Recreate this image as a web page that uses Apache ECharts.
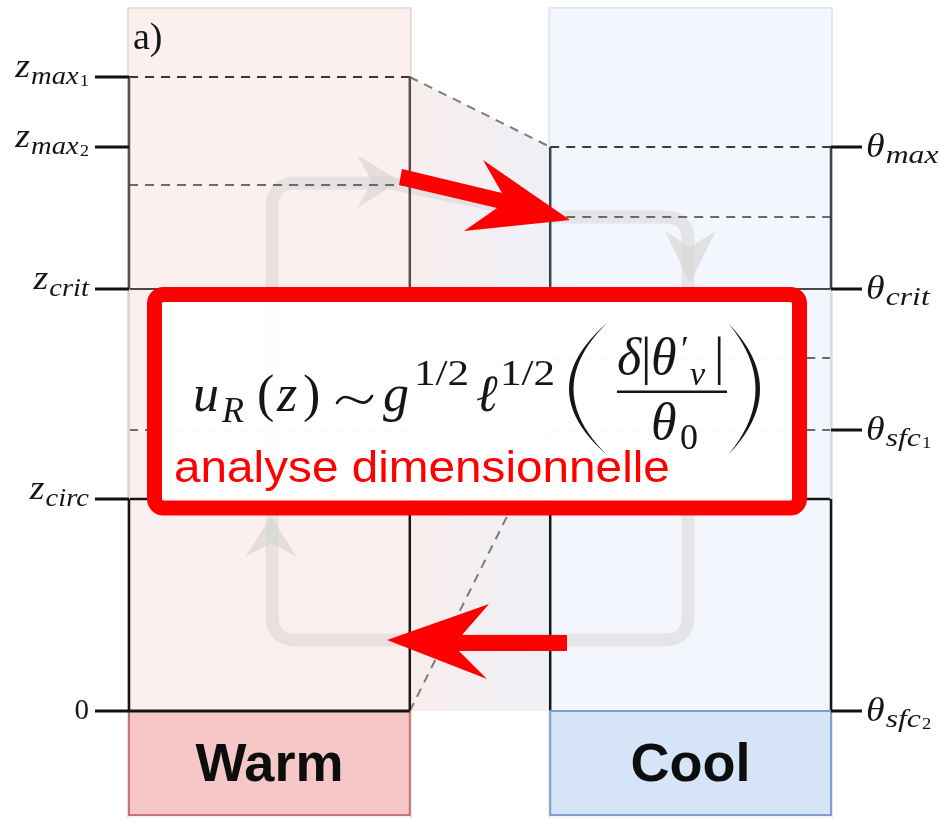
<!DOCTYPE html>
<html>
<head>
<meta charset="utf-8">
<script src="https://cdn.jsdelivr.net/npm/echarts@6/dist/echarts.min.js"></script>
<style>
  html, body { margin: 0; padding: 0; background: #ffffff; }
  #chart { width: 941px; height: 818px; }
</style>
</head>
<body>
<div id="chart"></div>
<script>
// ---- Schematic values (vertical unit: height above the surface) ----
const columnNames = ['Warm', 'Cool'];
// left axis: heights of the warm column, label written as base|sub|subsub
const zLevelLabels = ['0', 'z|circ', 'z|crit', 'z|max|2', 'z|max|1'];
const zLevelHeights = [0, 212, 422, 564, 634];
// right axis: potential-temperature levels of the cool column
const thetaLevelLabels = ['θ|sfc|2', 'θ|sfc|1', 'θ|crit', 'θ|max'];
const thetaLevelHeights = [0, 281, 422, 564];
// dashed isentropes inside each column
const warmIsentropes = [634, 526, 281];
const coolIsentropes = [564, 494, 353, 281];
// isentropes that run from the warm column into the cool one [warm, cool]
const isentropeLinks = [[634, 564], [0, 281]];

// ---- Layout ----
const COLUMN_X = [[0, 1], [1.5, 2.5]];
const COLUMN_TOP = [zLevelHeights[4], thetaLevelHeights[3]];
const PANEL_TOP = 703, PANEL_BOTTOM = -110, LABEL_BOX_BOTTOM = -104;
const PANEL_FILL = ['#fcefef', '#f3f6fd'];
const PANEL_EDGE = ['#ecd2d2', '#d9e2f0'];
const LABEL_FILL = ['#f5c8c7', '#d6e4f7'];
const LABEL_EDGE = ['#c47474', '#7f9dd2'];
const WALL_DARK = ['#5d4b4d', '#3b4550'];
const WALL_FAINT = ['#e2d2d2', '#d6dde8'];
const SERIF = '"Liberation Serif", "DejaVu Serif", serif';
const SANS = '"Liberation Sans", Arial, sans-serif';

// circulation loop (data units), drawn faintly behind the annotations
const LOOP = { left: 0.51, right: 1.991, topWarm: 528, topCool: 494, bottom: 71, startWarm: 170, gapStart: 0.93, gapEnd: 1.503, radius: 24 };
const LOOP_HEADS = [
  [[0.965, 530], [0.812, 556], [0.865, 529], [0.812, 503]],
  [[1.998, 428], [2.090, 480], [1.998, 464], [1.909, 480]],
  [[0.506, 194], [0.598, 154], [0.506, 168], [0.413, 154]]
];

const measureCtx = document.createElement('canvas').getContext('2d');
function textWidth(t, size, italic) {
  measureCtx.font = (italic ? 'italic ' : '') + size + 'px ' + SERIF;
  return measureCtx.measureText(t).width;
}
// text helper positioned by its alphabetic baseline
function txt(text, x, baseline, size, opts) {
  opts = opts || {};
  const el = {
    type: 'text', x: x, y: baseline - 0.3 * size,
    scaleX: opts.scaleX || 1,
    style: {
      text: text, fontSize: size, fontFamily: opts.family || SERIF,
      fontStyle: opts.italic ? 'italic' : 'normal', fontWeight: opts.weight || 'normal',
      fill: opts.fill || '#161616',
      align: opts.align || 'left', verticalAlign: 'middle'
    }
  };
  if (opts.z != null) el.z = opts.z;
  return el;
}
// math label such as z_{max_1}
function mathLabel(label, x, tickY, side) {
  const bits = label.split('|');
  const isDigit = /^[0-9]$/.test(bits[0]);
  const parts = [];
  if (isDigit) {
    parts.push({ t: bits[0], size: 29, dy: 9, italic: false, sx: 1 });
  } else {
    const d = side === 'left' ? [1, 8, 10] : [11, 17, 19];
    parts.push({ t: bits[0], size: 33, dy: d[0], italic: true, sx: 1.15 });
    if (bits[1]) parts.push({ t: bits[1], size: 26, dy: d[1], italic: true, pre: 1, sx: side === 'left' ? 1.1 : 1.22 });
    if (bits[2]) parts.push({ t: bits[2], size: 17, dy: d[2], italic: false, pre: 1, sx: 1.1 });
  }
  const widths = parts.map(p => textWidth(p.t, p.size, p.italic) * p.sx + (p.pre || 0));
  const total = widths.reduce((a, b) => a + b, 0);
  let cx = side === 'left' ? x - total : x;
  return parts.map((p, i) => {
    const el = txt(p.t, cx + (p.pre || 0), tickY + p.dy, p.size, { italic: p.italic, scaleX: p.sx });
    cx += widths[i];
    return el;
  });
}
function line(api, a, b, style) {
  const p = api.coord(a), q = api.coord(b);
  return { type: 'line', shape: { x1: p[0], y1: p[1], x2: q[0], y2: q[1] }, style: style };
}
// tall bracket: crescent between two quadratic curves sharing end points
function bracket(x, top, bottom, outer, inner) {
  const pts = [];
  const n = 24;
  const q = (c, t) => [(1 - t) * (1 - t) * x + 2 * (1 - t) * t * c + t * t * x,
                       (1 - t) * (1 - t) * top + 2 * (1 - t) * t * ((top + bottom) / 2) + t * t * bottom];
  for (let k = 0; k <= n; k++) pts.push(q(outer, k / n));
  for (let k = n; k >= 0; k--) pts.push(q(inner, k / n));
  return { type: 'polygon', z: 61, shape: { points: pts }, style: { fill: '#161616' } };
}

const series = [
  // column panels
  {
    type: 'custom', z: 1, silent: true, clip: false,
    data: columnNames.map((n, i) => [i]),
    renderItem(params, api) {
      const i = params.dataIndex, xs = COLUMN_X[i];
      const a = api.coord([xs[0], PANEL_TOP]), b = api.coord([xs[1], PANEL_BOTTOM]);
      return { type: 'rect', shape: { x: a[0] - 1, y: a[1], width: b[0] - a[0] + 2, height: b[1] - a[1] },
        style: { fill: PANEL_FILL[i], stroke: PANEL_EDGE[i], lineWidth: 1.5 } };
    }
  },
  // shaded air between the columns, under the upper isentrope
  {
    type: 'custom', z: 2, silent: true, clip: false,
    data: [[0]],
    renderItem(params, api) {
      const pts = [api.coord([COLUMN_X[0][1], COLUMN_TOP[0]]), api.coord([COLUMN_X[1][0], COLUMN_TOP[1]]),
                   api.coord([COLUMN_X[1][0], 0]), api.coord([COLUMN_X[0][1], 0])];
      return { type: 'polygon', shape: { points: pts },
        style: { fill: new echarts.graphic.LinearGradient(0, 0, 1, 0, [
          { offset: 0, color: '#f8eded' }, { offset: 1, color: '#eef1f7' }]) } };
    }
  },
  // faint overturning circulation
  {
    type: 'custom', z: 3, silent: true, clip: false,
    data: [[0]],
    renderItem(params, api) {
      const r = LOOP.radius;
      const A = api.coord([LOOP.left, LOOP.startWarm]), B = api.coord([LOOP.left, LOOP.topWarm]);
      const C = api.coord([LOOP.gapStart, LOOP.topWarm]), D = api.coord([LOOP.gapEnd, LOOP.topCool]);
      const E = api.coord([LOOP.right, LOOP.topCool]), F = api.coord([LOOP.right, LOOP.bottom]);
      const G = api.coord([LOOP.left, LOOP.bottom]);
      const d = ['M', A[0], A[1], 'L', B[0], B[1] + r, 'Q', B[0], B[1], B[0] + r, B[1], 'L', C[0], C[1], 'L', D[0], D[1],
        'L', E[0] - r, E[1], 'Q', E[0], E[1], E[0], E[1] + r, 'L', F[0], F[1] - r, 'Q', F[0], F[1], F[0] - r, F[1],
        'L', G[0] + r, G[1], 'Q', G[0], G[1], G[0], G[1] - r, 'Z'].join(' ');
      const children = [{ type: 'path', shape: { pathData: d },
        style: { fill: null, stroke: '#dcd8d8', lineWidth: 13, opacity: 0.62, lineJoin: 'round' } }];
      LOOP_HEADS.forEach(hd => children.push({ type: 'polygon', shape: { points: hd.map(p => api.coord(p)) },
        style: { fill: '#d8d5d5', opacity: 0.68 } }));
      return { type: 'group', children: children };
    }
  },
  // dashed isentropes in each column
  {
    type: 'custom', z: 4, silent: true, clip: false,
    data: warmIsentropes.map(h => [0, h]).concat(coolIsentropes.map(h => [1, h])),
    renderItem(params, api) {
      const c = api.value(0), h = api.value(1), xs = COLUMN_X[c];
      const top = h === COLUMN_TOP[c];
      return line(api, [xs[0], h], [xs[1], h],
        { stroke: top ? '#3a3a3a' : '#6a6a6a', lineWidth: 2, lineDash: [9, 7] });
    }
  },
  // isentropes crossing the gap
  {
    type: 'custom', z: 4, silent: true, clip: false,
    data: isentropeLinks,
    renderItem(params, api) {
      return line(api, [COLUMN_X[0][1], api.value(0)], [COLUMN_X[1][0], api.value(1)],
        { stroke: '#7c7c7c', lineWidth: 2, lineDash: [9, 7] });
    }
  },
  // circulation level and critical level across both columns
  {
    type: 'custom', z: 5, silent: true, clip: false,
    data: [[0, zLevelHeights[1]], [1, zLevelHeights[1]], [0, zLevelHeights[2]], [1, zLevelHeights[2]]],
    renderItem(params, api) {
      const c = api.value(0), h = api.value(1), xs = COLUMN_X[c];
      const isCirc = h === zLevelHeights[1];
      return line(api, [xs[0], h], [xs[1], h], { stroke: isCirc ? '#151515' : '#4a4a4a', lineWidth: isCirc ? 2.5 : 2 });
    }
  },
  // column walls: dark below z_circ and above z_crit, faint in between
  {
    type: 'custom', z: 5, silent: true, clip: false,
    data: columnNames.map((n, i) => [i]),
    renderItem(params, api) {
      const i = params.dataIndex, xs = COLUMN_X[i];
      const spans = [[0, zLevelHeights[1], '#161616', 2.5], [zLevelHeights[1], zLevelHeights[2], WALL_FAINT[i], 2],
                     [zLevelHeights[2], COLUMN_TOP[i], WALL_DARK[i], 2.5]];
      const children = [];
      xs.forEach(x => spans.forEach(s => children.push(line(api, [x, s[0]], [x, s[1]], { stroke: s[2], lineWidth: s[3] }))));
      return { type: 'group', children: children };
    }
  },
  // Warm / Cool boxes
  {
    type: 'custom', z: 6, silent: true, clip: false,
    data: columnNames.map((n, i) => [i]),
    renderItem(params, api) {
      const i = params.dataIndex, xs = COLUMN_X[i];
      const a = api.coord([xs[0], 0]), b = api.coord([xs[1], LABEL_BOX_BOTTOM]);
      return { type: 'group', children: [
        { type: 'rect', shape: { x: a[0], y: a[1], width: b[0] - a[0], height: b[1] - a[1] },
          style: { fill: LABEL_FILL[i], stroke: LABEL_EDGE[i], lineWidth: 2 } },
        txt(columnNames[i], (a[0] + b[0]) / 2, (a[1] + b[1]) / 2 + 19, 54,
          { family: SANS, weight: 'bold', align: 'center', fill: '#0d0d0d' })
      ] };
    }
  },
  // surface of the warm column
  {
    type: 'custom', z: 7, silent: true, clip: false,
    data: [[0]],
    renderItem(params, api) {
      return line(api, [COLUMN_X[0][0], zLevelHeights[0]], [COLUMN_X[0][1], zLevelHeights[0]], { stroke: '#141414', lineWidth: 3 });
    }
  },
  // left height ticks and labels
  {
    type: 'custom', z: 8, silent: true, clip: false,
    data: zLevelHeights.map(h => [COLUMN_X[0][0], h]),
    renderItem(params, api) {
      const p = api.coord([api.value(0), api.value(1)]);
      return { type: 'group', children: [
        { type: 'line', shape: { x1: p[0] - 34, y1: p[1], x2: p[0], y2: p[1] }, style: { stroke: '#111', lineWidth: 3 } }
      ].concat(mathLabel(zLevelLabels[params.dataIndex], p[0] - 40, p[1], 'left')) };
    }
  },
  // right potential-temperature ticks and labels
  {
    type: 'custom', z: 8, silent: true, clip: false,
    data: thetaLevelHeights.map(h => [COLUMN_X[1][1], h]),
    renderItem(params, api) {
      const p = api.coord([api.value(0), api.value(1)]);
      return { type: 'group', children: [
        { type: 'line', shape: { x1: p[0], y1: p[1], x2: p[0] + 31, y2: p[1] }, style: { stroke: '#111', lineWidth: 3 } }
      ].concat(mathLabel(thetaLevelLabels[params.dataIndex], p[0] + 35, p[1], 'right')) };
    }
  }
];

// ---- Annotation overlay: scaling law box and red arrows ----
const RED = '#ff0000';
const F = 52;
const overlay = [
  txt('a)', 133, 50, 38, { z: 50 }),
  { type: 'rect', z: 60, shape: { x: 154.5, y: 294.5, width: 645, height: 213.5, r: 9 },
    style: { fill: 'rgba(255,255,255,0.97)', stroke: RED, lineWidth: 15 } },
  txt('u', 193, 413, F, { italic: true, z: 61 }),
  txt('R', 222, 423, 36, { italic: true, z: 61 }),
  txt('(', 257, 413, F, { z: 61 }),
  txt('z', 277, 413, F, { italic: true, z: 61 }),
  txt(')', 303, 413, F, { z: 61 }),
  { type: 'bezierCurve', z: 61,
    shape: { x1: 337, y1: 403, cpx1: 348, cpy1: 385, cpx2: 361, cpy2: 415, x2: 372, y2: 396 },
    style: { stroke: '#161616', lineWidth: 2.6, fill: null, lineCap: 'round' } },
  txt('g', 383, 413, F, { italic: true, z: 61 }),
  txt('1/2', 414, 386, 36, { z: 61, scaleX: 1.2 }),
  txt('ℓ', 476, 413, F, { italic: true, z: 61 }),
  txt('1/2', 500, 386, 36, { z: 61, scaleX: 1.2 }),
  bracket(607, 323, 455, 531, 540),
  txt('δ', 617, 376, F, { italic: true, z: 61 }),
  txt('|', 641, 376, F, { z: 61 }),
  txt('θ', 651, 376, F, { italic: true, z: 61 }),
  txt('′', 681, 362, 36, { z: 61 }),
  txt('v', 690, 386, 34, { italic: true, z: 61 }),
  txt('|', 714, 376, F, { z: 61 }),
  { type: 'rect', z: 61, shape: { x: 617, y: 390.5, width: 110, height: 2.5 }, style: { fill: '#161616' } },
  txt('θ', 651, 441, F, { italic: true, z: 61 }),
  txt('0', 680, 450, 36, { z: 61 }),
  bracket(728, 323, 455, 792, 783),
  txt('analyse dimensionnelle', 174, 483, 45, { family: SANS, fill: RED, z: 61, scaleX: 1.06 }),
  { type: 'polygon', z: 70, shape: { points: [[402, 169], [502, 193], [483, 160], [570, 220], [464, 231], [497, 208], [399, 185]] },
    style: { fill: RED } },
  { type: 'polygon', z: 70, shape: { points: [[567, 635], [462, 635], [489, 604], [387, 640], [487, 679], [459, 651], [567, 651]] },
    style: { fill: RED } }
];

const chart = echarts.init(document.getElementById('chart'), null, { renderer: 'canvas' });
chart.setOption({
  animation: false,
  backgroundColor: '#ffffff',
  grid: { left: 129, right: 110, top: 77, bottom: 107, containLabel: false },
  xAxis: { type: 'value', min: 0, max: 2.5, show: false },
  yAxis: { type: 'value', min: 0, max: 634, show: false },
  series: series,
  graphic: { elements: overlay }
});
</script>
</body>
</html>
